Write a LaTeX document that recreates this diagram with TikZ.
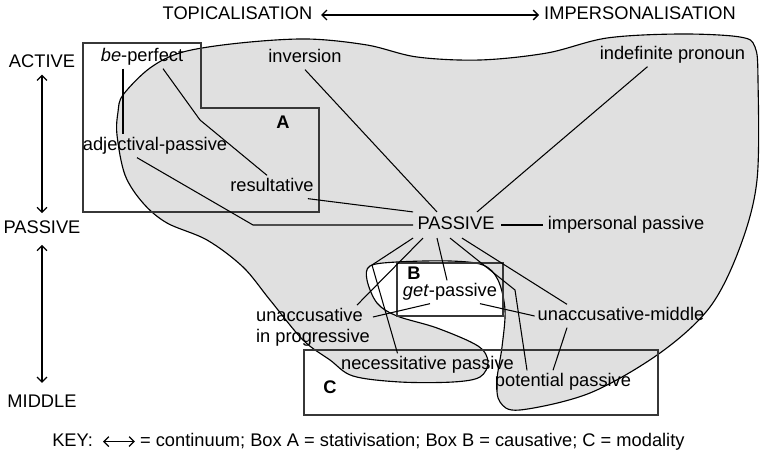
\documentclass[tikz,border=0pt]{standalone}
\usepackage{fontspec}
\setmainfont{Liberation Sans}
\usepackage{tikz}
\usetikzlibrary{arrows.meta}
\definecolor{blobgrey}{RGB}{224,224,224}
\definecolor{boxgrey}{RGB}{55,55,55}
\newcommand{\labfont}{\fontsize{13}{14.7}\selectfont}

\begin{document}
\begin{tikzpicture}[
  >={Straight Barb[length=3.5pt,width=7pt]},
  lbl/.style={font=\labfont, inner sep=2pt},
  term/.style={lbl, text height=9.5pt, text depth=2.7pt},
  boxlab/.style={font=\labfont\bfseries, inner sep=0pt},
  link/.style={line width=0.75pt},
  frame/.style={draw=boxgrey, line width=0.9pt},
  continuum/.style={<->, line width=0.9pt}
]
\useasboundingbox (0,0) rectangle (19.025,11.4);

% grey region of passive-like constructions
\filldraw[fill=blobgrey, draw=black, line width=0.8pt]
  plot[smooth cycle, tension=0.55] coordinates {
    (2.925,8.025) (2.95,8.6) (3.075,9.025) (3.75,9.7) (4.575,10.1)
    (6.0,10.325) (7.675,10.425) (9.175,10.275) (10.425,9.975) (12.0,9.9)
    (13.675,10.075) (15.175,10.45) (17.0,10.55) (18.5,10.475) (18.875,10.225)
    (18.95,9.4) (18.925,6.9) (18.5,5.225) (17.75,3.725) (16.5,2.575)
    (14.75,1.575) (13.0,1.15) (12.5,1.35) (12.425,1.9) (12.55,2.725)
    (12.625,3.65) (12.45,4.4) (12.075,4.775) (11.25,4.875) (9.925,4.85)
    (9.25,4.75) (9.175,4.4) (9.425,3.825) (9.925,3.5) (10.925,3.2)
    (11.95,2.75) (12.2,2.35) (12.0,1.975) (11.325,1.85) (10.0,1.85)
    (8.825,2.0) (8.25,2.4) (7.575,2.9) (6.75,3.9) (6.075,4.725)
    (5.175,5.4) (4.175,5.825) (3.575,6.325) (3.125,7.025)};

% boxes A, B and C
\draw[frame] (2.075,10.325) -- (5.025,10.325) -- (5.025,8.7) -- (7.975,8.7)
  -- (7.975,6.1) -- (2.075,6.1) -- cycle;
\draw[frame] (9.925,4.825) rectangle (12.575,3.5);
\draw[frame] (7.6,2.65) rectangle (16.45,1.025);
\node[boxlab] (boxA) at (7.075,8.35) {A};
\node[boxlab] (boxB) at (10.35,4.575) {B};
\node[boxlab] (boxC) at (8.25,1.725) {C};

% the two continua
\node[term] (topic) at (5.9375,11.025) {TOPICALISATION};
\node[term] (imper) at (16.0,11.025) {IMPERSONALISATION};
\node[term] (poleactive) at (1.05,9.825) {ACTIVE};
\node[term] (polepassive) at (1.05,5.675) {PASSIVE};
\node[term] (polemiddle) at (1.05,1.325) {MIDDLE};
\draw[continuum, shorten <=4pt, shorten >=1.5pt] (topic) -- (imper);
\draw[continuum, shorten >=3pt] (poleactive) -- (polepassive);
\draw[continuum, shorten <=3pt, shorten >=6pt] (polepassive) -- (polemiddle);

% constructions
\node[term] (beperf) at (3.55,9.975) {\textit{be}-perfect};
\node[term] (inversion) at (7.625,9.95) {inversion};
\node[term] (indef) at (16.8125,10.025) {indefinite pronoun};
\node[term] (adjpass) at (3.875,7.75) {adjectival-passive};
\node[term] (result) at (6.8,6.725) {resultative};
\node[term, inner sep=3pt] (passive) at (11.4,5.775) {PASSIVE};
\node[term] (imppass) at (15.65,5.775) {impersonal passive};
\node[lbl, align=left] (unaccprog) at (7.825,3.225) {unaccusative\\in progressive};
\node[term] (getpass) at (11.25,4.1) {\textit{get}-passive};
\node[term] (unaccmid) at (15.525,3.5) {unaccusative-middle};
\node[term] (necpass) at (10.6875,2.275) {necessitative passive};
\node[term] (potpass) at (14.075,1.85) {potential passive};

% bends
\coordinate (kneeRes) at (5.0,8.4);
\coordinate (kneeAdj) at (6.325,5.775);
\coordinate (kneeNec) at (9.3,4.775);
\coordinate (kneePot) at (12.875,4.15);

% links
\draw[link] ([xshift=-0.475cm]beperf.south) -- ([xshift=-0.8cm]adjpass.north);
\draw[link] ([xshift=0.525cm]beperf.south) -- (kneeRes) -- ([xshift=-0.125cm]result.north);
\draw[link] ([xshift=-0.45cm]adjpass.south) -- (kneeAdj) -- (passive.west);
\draw[link] ([xshift=-0.22cm]result.south east) -- (passive.north west);
\draw[link] (inversion.south) -- ([xshift=-0.475cm]passive.north);
\draw[link] ([xshift=-0.625cm]indef.south) -- ([xshift=0.525cm]passive.north);
\draw[link, shorten <=1.5pt, shorten >=1pt] (passive) -- (imppass);
\draw[link] (passive.south west) -- (kneeNec) -- ([xshift=-0.75cm]necpass.north);
\draw[link] ([xshift=-0.825cm]passive.south) -- ([xshift=1.1cm]unaccprog.north);
\draw[link] ([xshift=-0.475cm]passive.south) -- ([xshift=-0.075cm]getpass.north);
\draw[link] ([xshift=-0.15cm]passive.south) -- (kneePot) -- ([xshift=-0.9cm]potpass.north);
\draw[link] ([xshift=0.15cm]passive.south) -- ([xshift=-1.35cm]unaccmid.north);
\draw[link] ([xshift=-0.5cm]getpass.south) -- ([yshift=0.25cm]unaccprog.east);
\draw[link] ([xshift=0.75cm]getpass.south) -- (unaccmid.west);
\draw[link] ([xshift=-1.35cm]unaccmid.south) -- ([xshift=-0.25cm]potpass.north);

% key
\node[term, anchor=east] (keyhead) at (2.4,0.36) {KEY:};
\node[term, anchor=west] (keytext) at (3.425,0.36)
  {= continuum; Box A = stativisation; Box B = causative; C = modality};
\draw[continuum, shorten <=5pt, shorten >=1.5pt] (keyhead) -- (keytext);

\end{tikzpicture}
\end{document}
